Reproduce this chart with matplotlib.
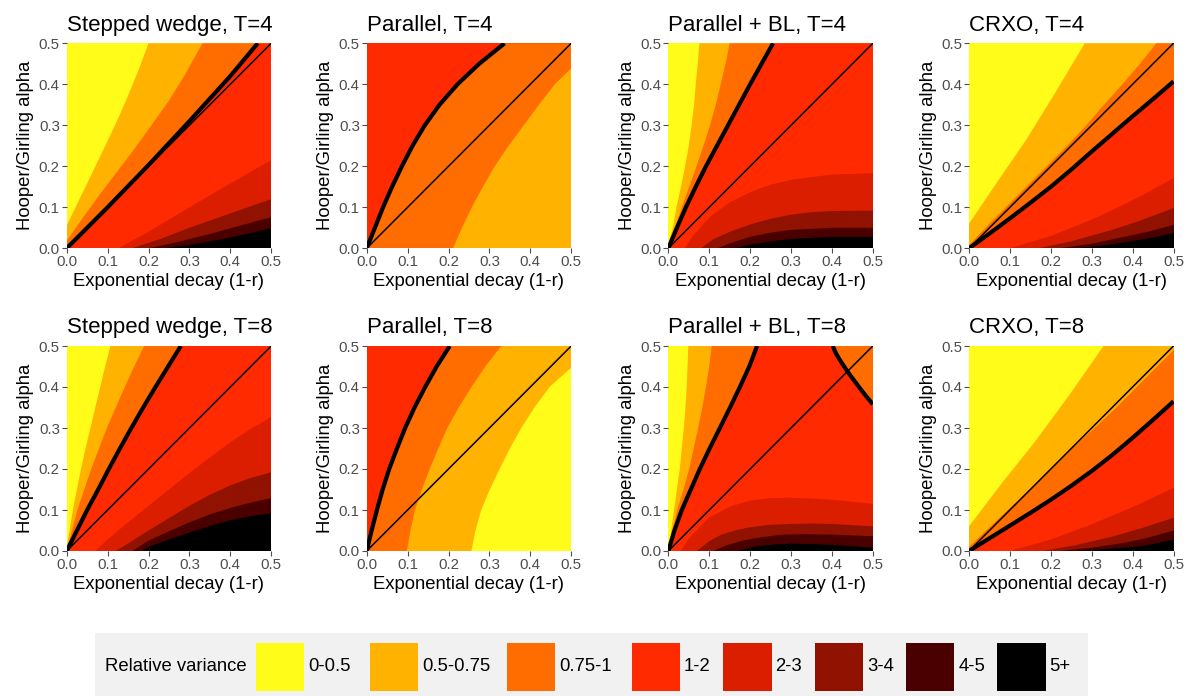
import matplotlib
matplotlib.use('Agg')
import matplotlib.pyplot as plt
from matplotlib.patches import Polygon, Rectangle

plt.rcParams['font.family'] = ['Liberation Sans', 'DejaVu Sans']

# ---------------- data ----------------
LEVELS = ['0-0.5', '0.5-0.75', '0.75-1', '1-2', '2-3', '3-4', '4-5', '5+']
COLORS = ['#FFFC19', '#FFB300', '#FF6C00', '#FF2A00', '#DB1E00', '#911200', '#4B0000', '#000000']
LEGEND_TITLE = 'Relative variance'
TITLES = ['Stepped wedge, T=4', 'Parallel, T=4', 'Parallel + BL, T=4', 'CRXO, T=4',
          'Stepped wedge, T=8', 'Parallel, T=8', 'Parallel + BL, T=8', 'CRXO, T=8']
XLABEL = 'Exponential decay (1-r)'
YLABEL = 'Hooper/Girling alpha'
TICKS = [0.0, 0.1, 0.2, 0.3, 0.4, 0.5]
DIAG_X = [0.0, 0.5]
DIAG_Y = [0.0, 0.5]
ALPHA_STEPS = [0.0, 0.05, 0.1, 0.15, 0.2, 0.25, 0.3, 0.35, 0.4, 0.45, 0.5]

# Each panel: level of regions from top-left to bottom-right, and the
# boundary curves (decay, alpha) between consecutive regions.
SW4_REGIONS = [0, 1, 2, 3, 4, 5, 6, 7]
SW4_BOUNDS = [
    ([0, 0.025, 0.05, 0.075, 0.1, 0.125, 0.15, 0.175, 0.2],
     [0.055, 0.107, 0.158, 0.21, 0.262, 0.315, 0.372, 0.433, 0.5]),
    ([0, 0.04, 0.08, 0.12, 0.16, 0.2, 0.25, 0.29, 0.332],
     [0.018, 0.075, 0.13, 0.183, 0.235, 0.29, 0.36, 0.425, 0.5]),
    ([0, 0.1, 0.2, 0.3, 0.4, 0.467], [0, 0.1, 0.203, 0.31, 0.42, 0.5]),
    ([0.126, 0.2, 0.3, 0.4, 0.5], [0, 0.04, 0.1, 0.158, 0.215]),
    ([0.16, 0.23, 0.3, 0.4, 0.5], [0, 0.023, 0.05, 0.085, 0.12]),
    ([0.2, 0.27, 0.35, 0.42, 0.5], [0, 0.015, 0.035, 0.054, 0.076]),
    ([0.24, 0.31, 0.38, 0.44, 0.5], [0, 0.01, 0.022, 0.035, 0.049]),
]
SW4_THICK = [2]

PAR4_REGIONS = [3, 2, 1]
PAR4_BOUNDS = [
    ([0, 0.02, 0.04, 0.062, 0.086, 0.112, 0.142, 0.178, 0.222, 0.275, 0.337], ALPHA_STEPS),
    ([0.211, 0.233, 0.257, 0.284, 0.313, 0.347, 0.384, 0.421, 0.46, 0.5],
     [0, 0.05, 0.1, 0.15, 0.2, 0.25, 0.3, 0.35, 0.4, 0.439]),
]
PAR4_THICK = [0]

PBL4_REGIONS = [0, 1, 2, 3, 4, 5, 6, 7]
PBL4_BOUNDS = [
    ([0, 0.011, 0.02, 0.031, 0.041, 0.05, 0.057, 0.063, 0.067, 0.072, 0.076],
     [0.01, 0.05, 0.1, 0.15, 0.2, 0.25, 0.3, 0.35, 0.4, 0.45, 0.5]),
    ([0, 0.016, 0.033, 0.051, 0.069, 0.086, 0.102, 0.116, 0.128, 0.14, 0.15],
     [0.005, 0.05, 0.1, 0.15, 0.2, 0.25, 0.3, 0.35, 0.4, 0.45, 0.5]),
    ([0, 0.021, 0.043, 0.067, 0.092, 0.119, 0.146, 0.173, 0.2, 0.228, 0.256], ALPHA_STEPS),
    ([0.04, 0.06, 0.1, 0.15, 0.2, 0.25, 0.3, 0.4, 0.5],
     [0, 0.03, 0.075, 0.112, 0.137, 0.155, 0.167, 0.18, 0.183]),
    ([0.08, 0.11, 0.15, 0.2, 0.25, 0.3, 0.35, 0.4, 0.5],
     [0, 0.022, 0.04, 0.058, 0.072, 0.082, 0.088, 0.091, 0.092]),
    ([0.12, 0.15, 0.2, 0.25, 0.3, 0.4, 0.5], [0, 0.012, 0.028, 0.038, 0.045, 0.05, 0.05]),
    ([0.16, 0.19, 0.22, 0.26, 0.3, 0.4, 0.5], [0, 0.007, 0.012, 0.018, 0.023, 0.028, 0.028]),
]
PBL4_THICK = [2]

CRXO4_REGIONS = [0, 1, 2, 3, 4, 5, 6, 7]
CRXO4_BOUNDS = [
    ([0, 0.07, 0.14, 0.21, 0.283], [0.06, 0.163, 0.265, 0.378, 0.5]),
    ([0, 0.05, 0.1, 0.145, 0.19, 0.24, 0.287, 0.33, 0.375, 0.418, 0.458],
     [0.008, 0.06, 0.11, 0.155, 0.2, 0.25, 0.3, 0.35, 0.4, 0.45, 0.5]),
    ([0, 0.05, 0.1, 0.15, 0.2, 0.25, 0.3, 0.35, 0.4, 0.45, 0.5],
     [0, 0.036, 0.073, 0.111, 0.15, 0.192, 0.236, 0.279, 0.322, 0.364, 0.407]),
    ([0.1, 0.2, 0.3, 0.4, 0.5], [0, 0.03, 0.07, 0.117, 0.171]),
    ([0.17, 0.25, 0.35, 0.42, 0.5], [0, 0.017, 0.045, 0.068, 0.098]),
    ([0.22, 0.3, 0.38, 0.44, 0.5], [0, 0.011, 0.028, 0.041, 0.057]),
    ([0.26, 0.33, 0.4, 0.45, 0.5], [0, 0.007, 0.018, 0.026, 0.037]),
]
CRXO4_THICK = [2]

SW8_REGIONS = [0, 1, 2, 3, 4, 5, 6, 7]
SW8_BOUNDS = [
    ([0, 0.007, 0.015, 0.025, 0.035, 0.046, 0.058, 0.07, 0.082, 0.094, 0.107],
     [0.01, 0.05, 0.1, 0.15, 0.2, 0.25, 0.3, 0.35, 0.4, 0.45, 0.5]),
    ([0, 0.013, 0.026, 0.043, 0.06, 0.079, 0.098, 0.12, 0.142, 0.165, 0.189], ALPHA_STEPS),
    ([0, 0.025, 0.05, 0.077, 0.103, 0.13, 0.158, 0.187, 0.217, 0.248, 0.279], ALPHA_STEPS),
    ([0.07, 0.1, 0.15, 0.2, 0.25, 0.3, 0.35, 0.4, 0.45, 0.5],
     [0, 0.028, 0.07, 0.11, 0.15, 0.19, 0.228, 0.265, 0.298, 0.327]),
    ([0.12, 0.15, 0.2, 0.25, 0.3, 0.35, 0.4, 0.45, 0.5],
     [0, 0.018, 0.05, 0.08, 0.11, 0.137, 0.16, 0.178, 0.192]),
    ([0.16, 0.2, 0.25, 0.3, 0.35, 0.4, 0.45, 0.5],
     [0, 0.025, 0.048, 0.07, 0.089, 0.105, 0.118, 0.129]),
    ([0.185, 0.2, 0.25, 0.3, 0.35, 0.4, 0.45, 0.5],
     [0, 0.01, 0.028, 0.045, 0.061, 0.075, 0.085, 0.092]),
]
SW8_THICK = [2]

PAR8_REGIONS = [3, 2, 1, 0]
PAR8_BOUNDS = [
    ([0, 0.012, 0.025, 0.039, 0.055, 0.074, 0.094, 0.117, 0.143, 0.171, 0.203], ALPHA_STEPS),
    ([0.098, 0.107, 0.118, 0.135, 0.154, 0.175, 0.197, 0.225, 0.256, 0.29, 0.329], ALPHA_STEPS),
    ([0.256, 0.266, 0.28, 0.301, 0.325, 0.35, 0.378, 0.41, 0.447, 0.5],
     [0, 0.05, 0.1, 0.15, 0.2, 0.25, 0.3, 0.35, 0.4, 0.447]),
]
PAR8_THICK = [0]

PBL8_REGIONS = [0, 1, 2, 3, 4, 5, 6, 7]
PBL8_BOUNDS = [
    ([0, 0.007, 0.014, 0.021, 0.028, 0.033, 0.038, 0.042, 0.045, 0.047, 0.049], ALPHA_STEPS),
    ([0, 0.01, 0.022, 0.037, 0.051, 0.062, 0.073, 0.083, 0.092, 0.1, 0.106], ALPHA_STEPS),
    ([0, 0.015, 0.033, 0.055, 0.077, 0.101, 0.126, 0.151, 0.175, 0.198, 0.217], ALPHA_STEPS),
    ([0.03, 0.05, 0.1, 0.15, 0.2, 0.25, 0.3, 0.35, 0.4, 0.45, 0.5],
     [0, 0.03, 0.082, 0.108, 0.123, 0.129, 0.13, 0.128, 0.125, 0.12, 0.115]),
    ([0.07, 0.1, 0.13, 0.17, 0.2, 0.25, 0.3, 0.35, 0.4, 0.45, 0.5],
     [0, 0.024, 0.04, 0.052, 0.058, 0.064, 0.066, 0.067, 0.066, 0.063, 0.06]),
    ([0.11, 0.14, 0.18, 0.23, 0.28, 0.34, 0.4, 0.45, 0.5],
     [0, 0.013, 0.025, 0.034, 0.04, 0.041, 0.04, 0.038, 0.036]),
    ([0.17, 0.2, 0.22, 0.26, 0.3, 0.35, 0.4, 0.45, 0.5],
     [0, 0.008, 0.012, 0.016, 0.018, 0.017, 0.015, 0.012, 0.008]),
]
PBL8_THICK = [2]
PBL8_CORNER_X = [0.402, 0.41, 0.42, 0.43, 0.44, 0.455, 0.47, 0.485, 0.5]
PBL8_CORNER_Y = [0.5, 0.482, 0.465, 0.45, 0.435, 0.415, 0.395, 0.376, 0.358]
PBL8_CORNER_LEVEL = 2

CRXO8_REGIONS = [0, 1, 2, 3, 4, 5, 6, 7]
CRXO8_BOUNDS = [
    ([0, 0.08, 0.16, 0.245, 0.329], [0.06, 0.165, 0.265, 0.38, 0.5]),
    ([0, 0.05, 0.1, 0.15, 0.2, 0.25, 0.307, 0.36, 0.41, 0.455, 0.5],
     [0.01, 0.058, 0.105, 0.152, 0.2, 0.249, 0.3, 0.35, 0.4, 0.445, 0.49]),
    ([0, 0.05, 0.1, 0.15, 0.2, 0.25, 0.3, 0.35, 0.4, 0.45, 0.5],
     [0, 0.031, 0.062, 0.093, 0.125, 0.159, 0.195, 0.234, 0.276, 0.32, 0.365]),
    ([0.1, 0.2, 0.3, 0.4, 0.5], [0, 0.028, 0.065, 0.107, 0.154]),
    ([0.18, 0.26, 0.35, 0.42, 0.5], [0, 0.014, 0.035, 0.055, 0.081]),
    ([0.22, 0.3, 0.38, 0.44, 0.5], [0, 0.008, 0.02, 0.033, 0.05]),
    ([0.26, 0.34, 0.42, 0.46, 0.5], [0, 0.005, 0.012, 0.019, 0.028]),
]
CRXO8_THICK = [2]

PANELS = [
    (SW4_REGIONS, SW4_BOUNDS, SW4_THICK),
    (PAR4_REGIONS, PAR4_BOUNDS, PAR4_THICK),
    (PBL4_REGIONS, PBL4_BOUNDS, PBL4_THICK),
    (CRXO4_REGIONS, CRXO4_BOUNDS, CRXO4_THICK),
    (SW8_REGIONS, SW8_BOUNDS, SW8_THICK),
    (PAR8_REGIONS, PAR8_BOUNDS, PAR8_THICK),
    (PBL8_REGIONS, PBL8_BOUNDS, PBL8_THICK),
    (CRXO8_REGIONS, CRXO8_BOUNDS, CRXO8_THICK),
]

# ---------------- layout ----------------
FIG_W, FIG_H = 1193, 696
fig = plt.figure(figsize=(FIG_W / 100, FIG_H / 100), dpi=100)
fig.patch.set_facecolor('white')

COL_LEFT = [66.7, 366.7, 668.3, 969.0]
ROW_TOP = [43.3, 346.0]
AX_W, AX_H = 204.5, 205.0
GRAY = '#4D4D4D'


def below_polygon(xs, ys):
    pts = list(zip(xs, ys))
    pts += [(1.0, ys[-1]), (1.0, -1.0), (xs[0], -1.0)]
    return pts


for i, (regions, bounds, thick) in enumerate(PANELS):
    r, c = divmod(i, 4)
    left = COL_LEFT[c] / FIG_W
    bottom = 1 - (ROW_TOP[r] + AX_H) / FIG_H
    ax = fig.add_axes([left, bottom, AX_W / FIG_W, AX_H / FIG_H])
    ax.set_xlim(0, 0.5)
    ax.set_ylim(0, 0.5)
    ax.set_facecolor(COLORS[regions[0]])
    for k, (xs, ys) in enumerate(bounds):
        ax.add_patch(Polygon(below_polygon(xs, ys), closed=True,
                             facecolor=COLORS[regions[k + 1]], edgecolor='none', lw=0))
    if i == 6:
        pts = list(zip(PBL8_CORNER_X, PBL8_CORNER_Y))
        pts += [(1.0, PBL8_CORNER_Y[-1]), (1.0, 1.0), (PBL8_CORNER_X[0], 1.0)]
        ax.add_patch(Polygon(pts, closed=True, facecolor=COLORS[PBL8_CORNER_LEVEL],
                             edgecolor='none', lw=0))
    ax.plot(DIAG_X, DIAG_Y, color='black', lw=1.1)
    for k in thick:
        xs, ys = bounds[k]
        ax.plot(xs, ys, color='black', lw=3.0, solid_capstyle='butt', solid_joinstyle='round')
    if i == 6:
        ax.plot(PBL8_CORNER_X, PBL8_CORNER_Y, color='black', lw=3.0,
                solid_capstyle='butt', solid_joinstyle='round')
    for sp in ax.spines.values():
        sp.set_visible(False)
    ax.set_xticks(TICKS)
    ax.set_yticks(TICKS)
    ax.set_xticklabels([f'{t:.1f}' for t in TICKS])
    ax.set_yticklabels([f'{t:.1f}' for t in TICKS])
    ax.tick_params(axis='both', length=3.5, width=0.8, color=GRAY, labelcolor=GRAY,
                   labelsize=10.8, pad=1.5)
    ax.set_xlabel(XLABEL, fontsize=13.3, labelpad=3)
    ax.set_ylabel(YLABEL, fontsize=13.3, labelpad=3)
    ax.set_title(TITLES[i], loc='left', fontsize=16, pad=9)

# ---------------- legend ----------------
LEG_L, LEG_R, LEG_T, LEG_B = 95.0, 1088.0, 633.0, 696.0
lax = fig.add_axes([LEG_L / FIG_W, 1 - LEG_B / FIG_H, (LEG_R - LEG_L) / FIG_W,
                    (LEG_B - LEG_T) / FIG_H])
lax.set_xlim(LEG_L, LEG_R)
lax.set_ylim(LEG_B, LEG_T)
lax.set_axis_off()
lax.add_patch(Rectangle((LEG_L, LEG_T), LEG_R - LEG_L, LEG_B - LEG_T,
                        facecolor='#F1F1F1', edgecolor='none'))
SW_LEFT = [255.7, 370.0, 506.7, 631.7, 723.3, 815.0, 906.0, 997.3]
SW_SIZE = 48.3
SW_TOP = 642.7
yc = SW_TOP + SW_SIZE / 2
lax.text(105, yc, LEGEND_TITLE, fontsize=13.3, va='center', ha='left')
for xl, col, lab in zip(SW_LEFT, COLORS, LEVELS):
    lax.add_patch(Rectangle((xl, SW_TOP), SW_SIZE, SW_SIZE, facecolor=col, edgecolor='none'))
    lax.text(xl + SW_SIZE + 4, yc, lab, fontsize=13.3, va='center', ha='left')

fig.savefig('out.png', dpi=100, facecolor='white')
